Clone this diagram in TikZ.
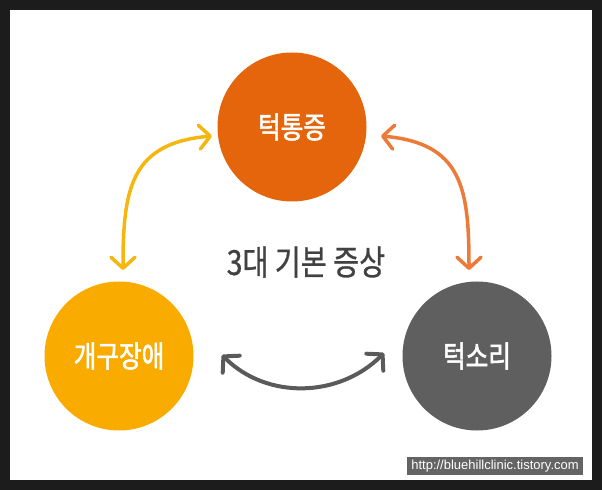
\documentclass[tikz,border=0pt]{standalone}
\usepackage{fontspec}
\setmainfont{Liberation Sans}
\newfontfamily\krs[FakeStretch=0.82, FakeBold=1.8]{Noto Sans CJK KR}
\newfontfamily\krt[FakeStretch=0.82, FakeBold=0.8]{Noto Sans CJK KR}
\usepackage{xcolor}
\usepackage{tikz}
\usetikzlibrary{arrows.meta}

\definecolor{framebk}{HTML}{1C1C1C}
\definecolor{jporange}{HTML}{E5650C}
\definecolor{odyellow}{HTML}{F9AB00}
\definecolor{jsgray}{HTML}{5F5F5F}
\definecolor{ttlgray}{HTML}{414141}
\definecolor{yarrow}{HTML}{F5B70F}
\definecolor{oarrow}{HTML}{EC7A38}
\definecolor{garrow}{HTML}{5A5A5A}
\definecolor{urlbg}{HTML}{646464}

\tikzset{
  sym/.style={circle, minimum size=149pt, inner sep=0pt, text=white, font=\krs\fontsize{30}{30}\selectfont},
  relarrow/.style={line width=3.5pt, {Straight Barb[length=11pt,width=24pt,round]}-{Straight Barb[length=11pt,width=24pt,round]}},
}

\begin{document}
\begin{tikzpicture}[x=1pt, y=1pt]
\fill[framebk] (0,0) rectangle (602,490);
\fill[white] (10,10) rectangle (592,480);
\node[sym, fill=jporange] (jp) at (292,363) {턱통증};
\node[sym, fill=odyellow] (od) at (119,134) {개구장애};
\node[sym, fill=jsgray] (js) at (477,134) {턱소리};
\node[text=ttlgray, font=\krt\fontsize{34.5}{34.5}\selectfont, inner sep=0pt] (ttl) at (306,228) {3대 기본 증상};
\node[fill=urlbg, text=white, font=\fontsize{13}{13}\selectfont, minimum width=176pt, minimum height=18pt, inner sep=0pt] (url) at (495,24) {http://bluehillclinic.tistory.com};
\coordinate (ya) at (212,354);
\coordinate (yb) at (123,220);
\coordinate (oa) at (381,354);
\coordinate (ob) at (469,220);
\coordinate (gl) at (222,135);
\coordinate (gr) at (384,137);
\draw[relarrow, yarrow] (yb) to[out=90, in=185, looseness=1.3] (ya);
\draw[relarrow, oarrow] (ob) to[out=90, in=-5, looseness=1.3] (oa);
\draw[relarrow, garrow, line width=4pt] (gl) to[out=-45, in=-135] (gr);
\end{tikzpicture}
\end{document}
